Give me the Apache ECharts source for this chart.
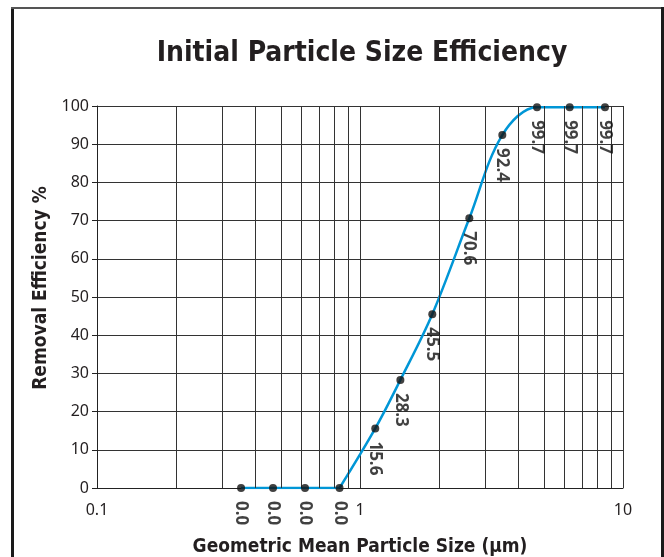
<!DOCTYPE html>
<html>
<head>
<meta charset="utf-8">
<script src="https://cdn.jsdelivr.net/npm/echarts@6/dist/echarts.min.js"></script>
<style>
html,body{margin:0;padding:0;background:#fff;}
#chart{width:664px;height:557px;}
</style>
</head>
<body>
<div id="chart"></div>
<script>
// Data
const particleSize = [0.353, 0.467, 0.618, 0.836, 1.143, 1.424, 1.883, 2.604, 3.476, 4.71, 6.27, 8.54];
const efficiency = [0.0, 0.0, 0.0, 0.0, 15.6, 28.3, 45.5, 70.6, 92.4, 99.7, 99.7, 99.7];
const minorGridX = [0.2, 0.3, 0.4, 0.5, 0.6, 0.7, 0.8, 0.9, 2, 3, 4, 5, 6, 7, 8, 9];
const titleText = 'Initial Particle Size Efficiency';
const xAxisName = 'Geometric Mean Particle Size (µm)';
const yAxisName = 'Removal Efficiency %';

const points = particleSize.map((x, i) => [x, efficiency[i]]);
const flatIdx = efficiency.lastIndexOf(0);
const flatPart = points.slice(0, flatIdx + 1);
const curvePart = points.slice(flatIdx);

const condensed = "'Liberation Sans Narrow', 'DejaVu Sans Condensed', sans-serif";
const gridColor = '#333';
const blue = '#0096d6';

const chart = echarts.init(document.getElementById('chart'), null, {renderer: 'canvas'});
chart.setOption({
  animation: false,
  backgroundColor: '#fff',
  title: {
    text: titleText,
    left: 357, top: 35, textAlign: 'center',
    textStyle: {fontFamily: condensed, fontWeight: 'bold', fontSize: 28, color: '#231f20'}
  },
  graphic: [
    {type: 'line', shape: {x1: 12.5, y1: 7, x2: 12.5, y2: 600}, style: {stroke: '#1a1a1a', lineWidth: 3}},
    {type: 'line', shape: {x1: 11, y1: 8, x2: 664, y2: 8}, style: {stroke: '#555', lineWidth: 2}},
    {type: 'line', shape: {x1: 662.5, y1: 7, x2: 662.5, y2: 600}, style: {stroke: '#1a1a1a', lineWidth: 3}}
  ],
  grid: {left: 97, right: 41, top: 106, bottom: 69, containLabel: false, outerBoundsMode: 'none'},
  xAxis: {
    type: 'log', logBase: 10, min: 0.1, max: 10,
    name: xAxisName, nameLocation: 'middle', nameGap: 50,
    nameTextStyle: {fontFamily: condensed, fontWeight: 'bold', fontSize: 19, color: '#231f20'},
    axisLine: {show: true, lineStyle: {color: '#222', width: 1}},
    axisTick: {show: false},
    axisLabel: {fontFamily: 'Noto Sans', fontSize: 16, color: '#231f20', margin: 14},
    splitLine: {show: true, lineStyle: {color: gridColor, width: 1}}
  },
  yAxis: {
    type: 'value', min: 0, max: 100, interval: 10,
    name: yAxisName, nameLocation: 'middle', nameGap: 40,
    nameTextStyle: {fontFamily: condensed, fontWeight: 'bold', fontSize: 19, color: '#231f20', padding: [0, 0, 0, 18]},
    axisLine: {show: true, lineStyle: {color: '#222', width: 1}},
    axisTick: {show: true, length: 5, lineStyle: {color: '#222'}},
    axisLabel: {fontFamily: 'Noto Sans', fontSize: 16, color: '#231f20', margin: 8},
    splitLine: {show: true, lineStyle: {color: gridColor, width: 1}}
  },
  series: [
    {
      type: 'line', data: [], z: 1, silent: true,
      markLine: {
        silent: true, symbol: 'none', animation: false,
        label: {show: false},
        lineStyle: {color: gridColor, width: 1, type: 'solid'},
        data: minorGridX.map(v => ({xAxis: v}))
      }
    },
    {
      type: 'line', data: flatPart, smooth: false, showSymbol: false, z: 3,
      lineStyle: {color: blue, width: 2.5}
    },
    {
      type: 'line', data: curvePart, smooth: 0.35, showSymbol: false, z: 3,
      lineStyle: {color: blue, width: 2.5}
    },
    {
      type: 'scatter', data: points, z: 5,
      symbol: 'circle', symbolSize: 8,
      itemStyle: {color: '#111'},
      label: {
        show: true, position: 'bottom', distance: 9, rotate: -90,
        align: 'left', verticalAlign: 'middle',
        fontFamily: 'Noto Sans', fontWeight: 'bold', fontSize: 17, color: '#111',
        formatter: p => p.value[1].toFixed(1)
      }
    }
  ]
});
</script>
</body>
</html>
